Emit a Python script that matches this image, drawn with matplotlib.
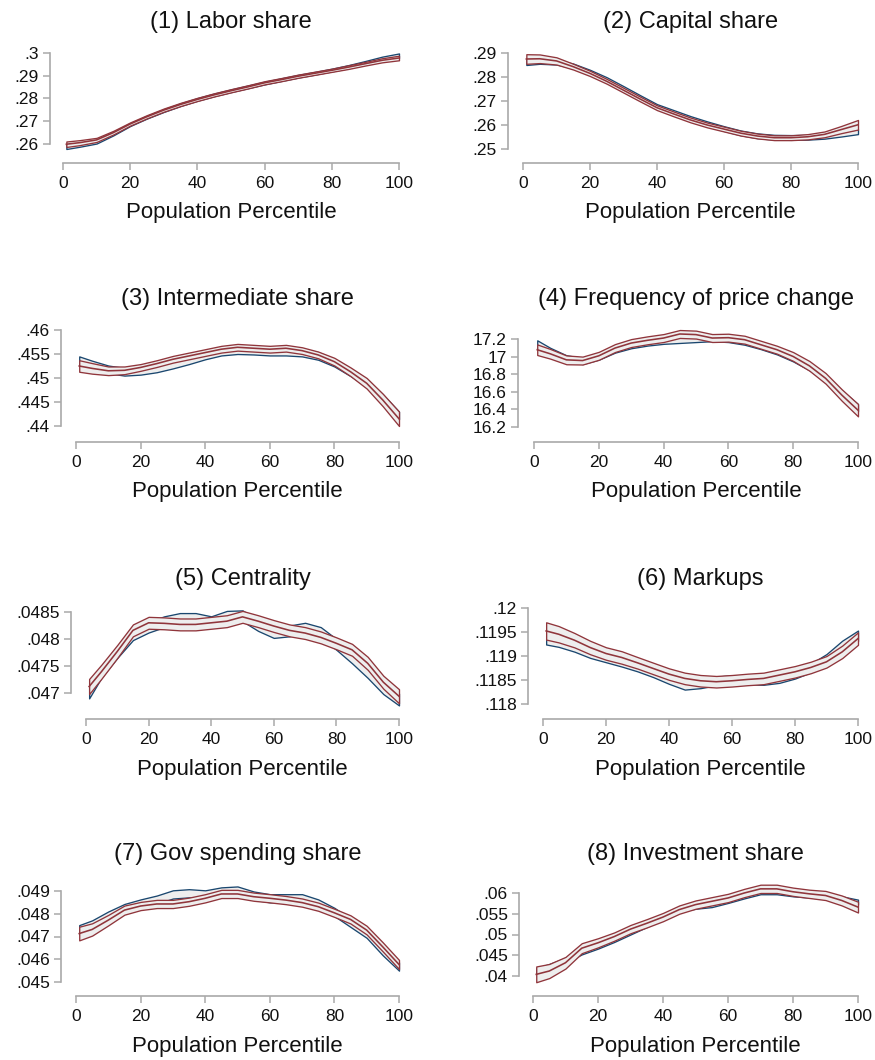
import numpy as np
import matplotlib
matplotlib.use("Agg")
import matplotlib.pyplot as plt

plt.rcParams['font.family'] = ['Liberation Sans', 'DejaVu Sans']

W, H = 875, 1060

# ---------------------------------------------------------------- data
pct = [1, 5, 10, 15, 20, 25, 30, 35, 40, 45, 50, 55, 60, 65, 70, 75, 80, 85, 90, 95, 100]
x_ticks = [0, 20, 40, 60, 80, 100]
x_label = "Population Percentile"

titles = ["(1) Labor share", "(2) Capital share", "(3) Intermediate share",
          "(4) Frequency of price change", "(5) Centrality", "(6) Markups",
          "(7) Gov spending share", "(8) Investment share"]

y_ticks = [
    [.26, .27, .28, .29, .30],
    [.25, .26, .27, .28, .29],
    [.44, .445, .45, .455, .46],
    [16.2, 16.4, 16.6, 16.8, 17.0, 17.2],
    [.047, .0475, .048, .0485],
    [.118, .1185, .119, .1195, .12],
    [.045, .046, .047, .048, .049],
    [.04, .045, .05, .055, .06],
]
y_tick_labels = [
    [".26", ".27", ".28", ".29", ".3"],
    [".25", ".26", ".27", ".28", ".29"],
    [".44", ".445", ".45", ".455", ".46"],
    ["16.2", "16.4", "16.6", "16.8", "17", "17.2"],
    [".047", ".0475", ".048", ".0485"],
    [".118", ".1185", ".119", ".1195", ".12"],
    [".045", ".046", ".047", ".048", ".049"],
    [".04", ".045", ".05", ".055", ".06"],
]

# (1) Labor share
red_mid_1 = [.2599, .2606, .2618, .2650, .2688, .2720, .2749, .2774, .2796, .2816, .2834,
             .2851, .2869, .2883, .2898, .2911, .2924, .2938, .2953, .2968, .2978]
red_hw_1 = [.0012, .0011, .0009, .0008, .0007, .0007, .0007, .0007, .0007, .0007, .0007,
            .0007, .0007, .0007, .0007, .0007, .0007, .0008, .0008, .0009, .0010]
blue_mid_1 = [.2588, .2597, .2610, .2645, .2685, .2718, .2747, .2773, .2796, .2816, .2834,
              .2851, .2868, .2883, .2898, .2911, .2925, .2940, .2957, .2975, .2988]
blue_hw_1 = [.0010, .0009, .0008, .0007, .0006, .0006, .0006, .0006, .0006, .0006, .0006,
             .0006, .0006, .0006, .0006, .0006, .0006, .0007, .0008, .0009, .0010]

# (2) Capital share
red_mid_2 = [.2875, .2876, .2867, .2843, .2815, .2782, .2745, .2708, .2672, .2646, .2621,
             .2600, .2583, .2566, .2554, .2547, .2547, .2551, .2561, .2581, .2601]
red_hw_2 = [.0020, .0018, .0015, .0012, .0011, .0010, .0010, .0010, .0010, .0010, .0010,
            .0010, .0010, .0010, .0010, .0010, .0010, .0011, .0012, .0015, .0020]
blue_mid_2 = [.2862, .2866, .2862, .2846, .2820, .2789, .2752, .2714, .2677, .2652, .2627,
              .2605, .2585, .2567, .2555, .2549, .2548, .2549, .2553, .2562, .2572]
blue_hw_2 = [.0012, .0011, .0010, .0010, .0010, .0010, .0010, .0010, .0010, .0010, .0010,
             .0010, .0010, .0010, .0010, .0010, .0010, .0010, .0010, .0010, .0010]

# (3) Intermediate share
red_mid_3 = [.4525, .4520, .4515, .4516, .4522, .4530, .4539, .4546, .4553, .4560, .4564,
             .4562, .4560, .4562, .4557, .4548, .4534, .4513, .4489, .4454, .4415]
red_hw_3 = [.0012, .0011, .0009, .0008, .0007, .0007, .0007, .0007, .0007, .0007, .0007,
            .0007, .0007, .0007, .0007, .0007, .0008, .0009, .0011, .0013, .0015]
blue_mid_3 = [.4535, .4527, .4518, .4513, .4515, .4520, .4528, .4537, .4547, .4555, .4558,
              .4557, .4555, .4555, .4553, .4546, .4532, .4512, .4490, .4458, .4422]
blue_hw_3 = [.0010, .0009, .0008, .0008, .0008, .0008, .0008, .0008, .0008, .0008, .0008,
             .0008, .0008, .0008, .0008, .0008, .0008, .0008, .0008, .0008, .0008]

# (4) Frequency of price change
red_mid_4 = [17.078, 17.032, 16.963, 16.955, 17.009, 17.097, 17.154, 17.185, 17.211, 17.257, 17.250,
             17.211, 17.215, 17.192, 17.135, 17.078, 17.001, 16.895, 16.753, 16.563, 16.391]
red_hw_4 = [.060, .055, .050, .045, .045, .045, .045, .045, .045, .045, .045,
            .045, .045, .045, .045, .045, .050, .055, .060, .065, .070]
blue_mid_4 = [17.14, 17.06, 16.98, 16.95, 17.00, 17.08, 17.13, 17.16, 17.18, 17.19, 17.20,
              17.21, 17.20, 17.17, 17.12, 17.06, 16.98, 16.88, 16.75, 16.58, 16.42]
blue_hw_4 = [.045, .040, .035, .035, .035, .035, .035, .035, .035, .035, .035,
             .035, .035, .035, .035, .035, .035, .035, .035, .038, .040]

# (5) Centrality
red_mid_5 = [.04712, .04740, .04777, .04816, .04830, .04829, .04827, .04827, .04830, .04833, .04841,
             .04833, .04824, .04816, .04811, .04803, .04792, .04780, .04755, .04720, .04694]
red_hw_5 = [.00014, .00013, .00012, .00011, .00011, .00011, .00011, .00011, .00011, .00011, .00011,
            .00011, .00011, .00011, .00011, .00011, .00011, .00011, .00012, .00012, .00013]
blue_mid_5 = [.04702, .04740, .04775, .04808, .04822, .04832, .04838, .04838, .04832, .04842, .04843,
              .04825, .04812, .04815, .04820, .04812, .04790, .04765, .04738, .04708, .04688]
blue_hw_5 = [.00012, .00011, .00010, .00010, .00010, .00010, .00010, .00010, .00010, .00010, .00010,
             .00010, .00010, .00010, .00010, .00010, .00010, .00010, .00010, .00010, .00011]

# (6) Markups
red_mid_6 = [.119522, .119453, .119329, .119176, .119052, .118969, .118858, .118740, .118623, .118533, .118484,
             .118464, .118484, .118512, .118533, .118602, .118671, .118761, .118879, .119087, .119363]
red_hw_6 = [.00018, .00017, .00015, .00014, .00013, .00013, .00012, .00012, .00012, .00012, .00012,
            .00012, .00012, .00012, .00012, .00012, .00012, .00012, .00012, .00013, .00013]
blue_mid_6 = [.11933, .11928, .11918, .11905, .11896, .11887, .11877, .11865, .11851, .11839, .11842,
              .11848, .11851, .11850, .11849, .11853, .11862, .11875, .11895, .11922, .11942]
blue_hw_6 = [.00009, .00009, .00009, .00009, .00009, .00009, .00009, .00009, .00009, .00009, .00009,
             .00009, .00009, .00009, .00009, .00009, .00009, .00009, .00009, .00010, .00011]

# (7) Gov spending share
red_mid_7 = [.04713, .04731, .04772, .04816, .04834, .04843, .04843, .04853, .04868, .04887, .04887,
             .04875, .04868, .04860, .04849, .04831, .04804, .04775, .04728, .04654, .04577]
red_hw_7 = [.00030, .00027, .00023, .00020, .00018, .00018, .00018, .00018, .00018, .00018, .00018,
            .00018, .00018, .00018, .00018, .00018, .00018, .00018, .00019, .00020, .00020]
blue_mid_7 = [.04730, .04752, .04792, .04825, .04845, .04862, .04885, .04890, .04885, .04898, .04902,
              .04880, .04868, .04868, .04868, .04845, .04808, .04760, .04712, .04635, .04568]
blue_hw_7 = [.00020, .00019, .00018, .00018, .00018, .00018, .00018, .00018, .00018, .00018, .00018,
             .00018, .00018, .00018, .00018, .00018, .00018, .00018, .00018, .00018, .00018]

# (8) Investment share
red_mid_8 = [.0404, .0412, .0432, .0467, .0480, .0495, .0513, .0527, .0542, .0560, .0572,
             .0580, .0588, .0600, .0610, .0610, .0603, .0598, .0594, .0582, .0566]
red_hw_8 = [.0019, .0017, .0014, .0012, .0011, .0010, .0010, .0010, .0010, .0010, .0010,
            .0010, .0010, .0010, .0010, .0010, .0010, .0010, .0011, .0012, .0013]
blue_mid_8 = [.0412, .0422, .0438, .0458, .0472, .0488, .0506, .0524, .0543, .0562, .0568,
              .0572, .0582, .0593, .0603, .0603, .0598, .0595, .0592, .0586, .0578]
blue_hw_8 = [.0007, .0007, .0006, .0006, .0006, .0006, .0006, .0006, .0006, .0006, .0006,
             .0006, .0006, .0006, .0006, .0006, .0006, .0006, .0006, .0006, .0006]

red_mid = [red_mid_1, red_mid_2, red_mid_3, red_mid_4, red_mid_5, red_mid_6, red_mid_7, red_mid_8]
red_hw = [red_hw_1, red_hw_2, red_hw_3, red_hw_4, red_hw_5, red_hw_6, red_hw_7, red_hw_8]
blue_mid = [blue_mid_1, blue_mid_2, blue_mid_3, blue_mid_4, blue_mid_5, blue_mid_6, blue_mid_7, blue_mid_8]
blue_hw = [blue_hw_1, blue_hw_2, blue_hw_3, blue_hw_4, blue_hw_5, blue_hw_6, blue_hw_7, blue_hw_8]

# ---------------------------------------------------------------- layout (pixels)
# y-axis line x, x=0 px, x=100 px, top tick px, bottom tick px, x-axis line y,
# title baseline, x-label baseline
layout = [
    (50, 63, 399, 53, 144, 163, 28, 218),
    (508, 523, 858, 53, 149, 163, 28, 218),
    (61, 76, 399, 330, 426, 442, 305, 497),
    (518, 534, 858, 339, 427, 442, 305, 497),
    (71, 86, 399, 612, 693, 719, 585, 775),
    (528, 543, 858, 608, 704, 719, 585, 775),
    (61, 76, 399, 891, 982, 996, 860, 1052),
    (519, 533, 858, 893, 976, 996, 860, 1052),
]

NAVY = "#1a476f"
MAROON = "#90353b"
BAND = "#eeeeee"
AXIS = "#a9a9a9"
PX2PT = 72.0 / 100.0

fig = plt.figure(figsize=(W / 100, H / 100), dpi=100)
fig.patch.set_facecolor("white")

for i in range(8):
    yx, x0, x1, ytop, ybot, xay, tity, xly = layout[i]
    ax = fig.add_axes([x0 / W, 1 - ybot / H, (x1 - x0) / W, (ybot - ytop) / H])
    ax.patch.set_visible(False)
    ax.set_xlim(0, 100)
    ax.set_ylim(y_ticks[i][0], y_ticks[i][-1])

    bm = np.array(blue_mid[i]); bh = np.array(blue_hw[i])
    rm = np.array(red_mid[i]); rh = np.array(red_hw[i])

    ax.fill_between(pct, bm - bh, bm + bh, facecolor=BAND, edgecolor=NAVY,
                    linewidth=0.95, clip_on=False, zorder=2)
    ax.fill_between(pct, rm - rh, rm + rh, facecolor=BAND, edgecolor=MAROON,
                    linewidth=0.95, clip_on=False, zorder=3)
    ax.plot(pct, rm, color=MAROON, linewidth=1.15, clip_on=False, zorder=4)

    for s in ("top", "right"):
        ax.spines[s].set_visible(False)
    ax.spines["left"].set_position(("outward", (x0 - yx) * PX2PT))
    ax.spines["bottom"].set_position(("outward", (xay - ybot) * PX2PT))
    ax.spines["left"].set_bounds(y_ticks[i][0], y_ticks[i][-1])
    ax.spines["bottom"].set_bounds(0, 100)
    for s in ("left", "bottom"):
        ax.spines[s].set_color(AXIS)
        ax.spines[s].set_linewidth(1.2)

    ax.set_xticks(x_ticks)
    ax.set_xticklabels([str(v) for v in x_ticks])
    ax.set_yticks(y_ticks[i])
    ax.set_yticklabels(y_tick_labels[i])
    ax.tick_params(direction="out", length=5, width=1.1, color=AXIS,
                   labelsize=12.5, labelcolor="#111111", pad=3)
    ax.tick_params(axis="x", pad=4.5)

    cx = (x0 + x1) / 2 / W
    fig.text(cx, 1 - tity / H, titles[i], ha="center", va="baseline",
             fontsize=17, color="#111111")
    fig.text(cx, 1 - xly / H, x_label, ha="center", va="baseline",
             fontsize=16, color="#111111")

fig.savefig("out.png", dpi=100, facecolor="white")
